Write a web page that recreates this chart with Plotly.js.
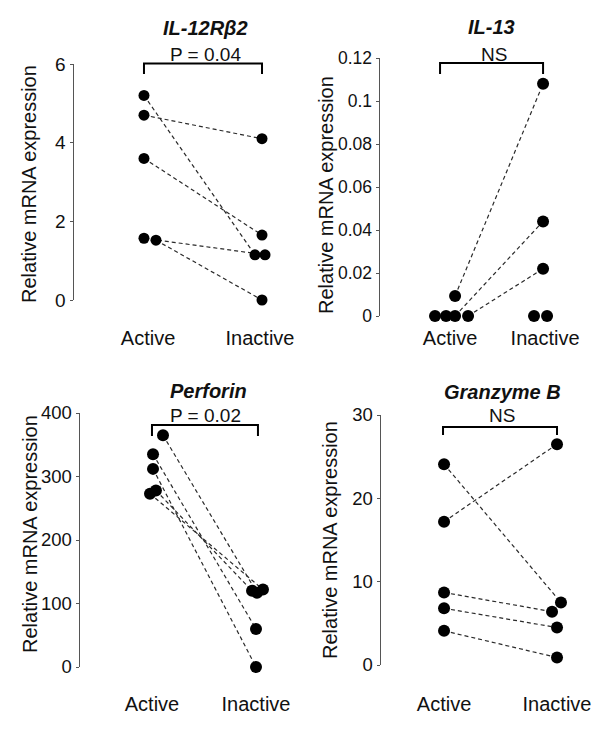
<!DOCTYPE html>
<html>
<head>
<meta charset="utf-8">
<script src="https://cdn.plot.ly/plotly-3.0.1.min.js"></script>
<style>html,body{margin:0;padding:0;background:#fff;}#chart{width:600px;height:736px;}</style>
</head>
<body>
<div id="chart"></div>
<script>
// ---- data ----
const categories = ['Active', 'Inactive'];

const il12Active   = [5.2, 4.7, 3.6, 1.57, 1.52];
const il12Inactive = [1.15, 4.1, 1.65, 1.15, 0];

const il13Active   = [0.0093, 0, 0, 0, 0];
const il13Inactive = [0.108, 0.044, 0.022, 0, 0];

const perforinActive   = [365, 335, 312, 278, 273];
const perforinInactive = [117, 60, 0, 120, 122];

const granzymeActive   = [24.1, 17.2, 8.7, 6.8, 4.1];
const granzymeInactive = [7.5, 26.5, 6.4, 4.5, 0.9];

const il12Ticks = [0, 2, 4, 6];
const il13Ticks = [0, 0.02, 0.04, 0.06, 0.08, 0.1, 0.12];
const il13TickText = ['0', '0.02', '0.04', '0.06', '0.08', '0.1', '0.12'];
const perforinTicks = [0, 100, 200, 300, 400];
const granzymeTicks = [0, 10, 20, 30];

const panelTitles = ['IL-12R\u03b22', 'IL-13', 'Perforin', 'Granzyme B'];
const pLabels = ['P = 0.04', 'NS', 'P = 0.02', 'NS'];
const yTitle = 'Relative mRNA expression';

// ---- layout helpers (jitter offsets: presentation only) ----
const W = 600, H = 736;
const FONT = 'Liberation Sans, Arial, Helvetica, sans-serif';
const panels = [
  {act: il12Active, ina: il12Inactive, offA: [-0.036,-0.036,-0.036,-0.036,0.071], offI: [-0.045,0.018,0.018,0.045,0.018],
   xd: [74, 290], xr: [-0.661, 1.268], yd: [64, 300], yr: [0, 6], ticks: il12Ticks, ticktext: null, msize: 11,
   bracket: [-0.036, 1.018, 63.5, 74], title: [205, 28], p: [205, 55], yt: [29, 184], xlen: 20, tfs: 19},
  {act: il13Active, ina: il13Inactive, offA: [0.053,0.053,0.19,-0.158,-0.042], offI: [-0.021,-0.021,-0.021,-0.116,0.021],
   xd: [380, 590], xr: [-0.737, 1.473], yd: [58, 316], yr: [0, 0.12], ticks: il13Ticks, ticktext: il13TickText, msize: 12,
   bracket: [-0.105, 0.979, 63, 74], title: [491, 27.5], p: [494, 54], yt: [326, 195], xlen: 4, tfs: 17.5},
  {act: perforinActive, ina: perforinInactive, offA: [0.106,0.01,0.01,0.038,-0.019], offI: [0.01,0,0,-0.038,0.067],
   xd: [80, 290], xr: [-0.692, 1.327], yd: [413, 667], yr: [0, 400], ticks: perforinTicks, ticktext: null, msize: 12,
   bracket: [0, 1.019, 425, 436], title: [208, 391], p: [205.5, 416], yt: [30, 534], xlen: 19, tfs: 18.5},
  {act: granzymeActive, ina: granzymeInactive, offA: [0,0,0,0,0], offI: [0.035,0,-0.044,0,0],
   xd: [381, 590], xr: [-0.558, 1.292], yd: [415, 665], yr: [0, 30], ticks: granzymeTicks, ticktext: null, msize: 12,
   bracket: [-0.009, 1.0, 427, 435], title: [502, 392], p: [502, 416], yt: [330, 540], xlen: 21, tfs: 18.5}
];

const traces = [];
const layout = {
  width: W, height: H,
  margin: {l: 0, r: 0, t: 0, b: 0},
  paper_bgcolor: '#fff', plot_bgcolor: '#fff',
  showlegend: false,
  font: {family: FONT, color: '#111'},
  shapes: [], annotations: []
};

panels.forEach((p, k) => {
  const n = k === 0 ? '' : String(k + 1);
  const xa = 'x' + n, ya = 'y' + n;
  // paired dashed lines
  p.act.forEach((a, i) => {
    const b = p.ina[i];
    if (a === 0 && b === 0) return;
    traces.push({
      type: 'scatter', mode: 'lines', xaxis: xa, yaxis: ya, hoverinfo: 'skip',
      x: [0 + p.offA[i], 1 + p.offI[i]], y: [a, b],
      line: {color: '#2a2a2a', width: 1.2, dash: '4px,3px'}
    });
  });
  traces.push({
    type: 'scatter', mode: 'markers', xaxis: xa, yaxis: ya, cliponaxis: false,
    x: p.act.map((v, i) => 0 + p.offA[i]), y: p.act,
    marker: {color: '#000', size: p.msize}
  });
  traces.push({
    type: 'scatter', mode: 'markers', xaxis: xa, yaxis: ya, cliponaxis: false,
    x: p.ina.map((v, i) => 1 + p.offI[i]), y: p.ina,
    marker: {color: '#000', size: p.msize}
  });

  layout['xaxis' + n] = {
    domain: [p.xd[0] / W, p.xd[1] / W], range: p.xr, anchor: ya,
    tickvals: [0, 1], ticktext: categories,
    showline: false, zeroline: false, showgrid: false,
    ticks: 'outside', ticklen: p.xlen, tickcolor: 'rgba(0,0,0,0)',
    tickfont: {size: 20, family: FONT, color: '#111'}, fixedrange: true
  };
  const yax = {
    domain: [1 - p.yd[1] / H, 1 - p.yd[0] / H], range: p.yr, anchor: xa,
    tickvals: p.ticks,
    showline: true, linecolor: '#555', linewidth: 1.5,
    ticks: 'outside', ticklen: 3, tickcolor: '#555', tickwidth: 1,
    zeroline: false, showgrid: false,
    tickfont: {size: p.tfs, family: FONT, color: '#111'}, fixedrange: true
  };
  if (p.ticktext) yax.ticktext = p.ticktext;
  layout['yaxis' + n] = yax;

  const b = p.bracket;
  const yTop = 1 - b[2] / H, yBot = 1 - b[3] / H;
  layout.shapes.push({
    type: 'path', xref: xa, yref: 'paper',
    path: `M ${b[0]},${yBot} L ${b[0]},${yTop} L ${b[1]},${yTop} L ${b[1]},${yBot}`,
    line: {color: '#000', width: 2}
  });
  layout.annotations.push({
    xref: 'paper', yref: 'paper', x: p.title[0] / W, y: 1 - p.title[1] / H,
    xanchor: 'center', yanchor: 'middle', showarrow: false,
    text: '<b><i>' + panelTitles[k] + '</i></b>',
    font: {size: 20, family: FONT, color: '#111'}
  });
  layout.annotations.push({
    xref: 'paper', yref: 'paper', x: p.p[0] / W, y: 1 - p.p[1] / H,
    xanchor: 'center', yanchor: 'middle', showarrow: false,
    text: pLabels[k], font: {size: 19, family: FONT, color: '#111'}
  });
  layout.annotations.push({
    xref: 'paper', yref: 'paper', x: p.yt[0] / W, y: 1 - p.yt[1] / H,
    xanchor: 'center', yanchor: 'middle', showarrow: false, textangle: -90,
    text: yTitle, font: {size: 20, family: FONT, color: '#111'}
  });
});

Plotly.newPlot('chart', traces, layout, {displayModeBar: false, staticPlot: true});
</script>
</body>
</html>
